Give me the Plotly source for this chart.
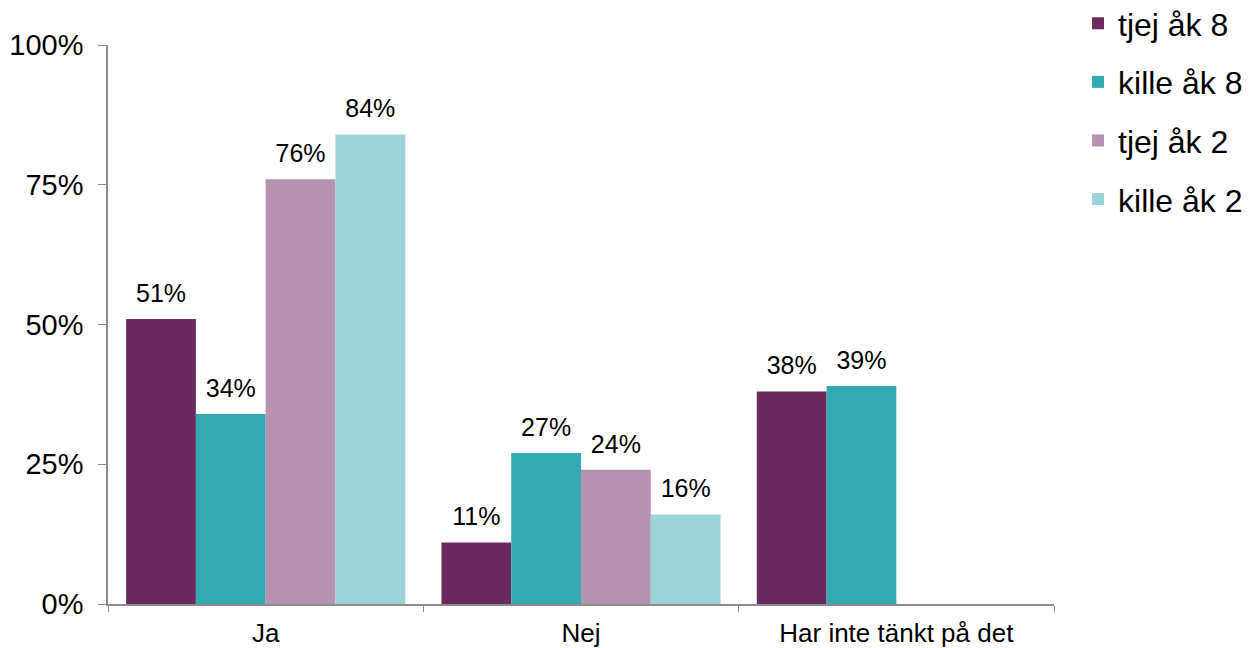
import plotly.graph_objects as go

categories = ["Ja", "Nej", "Har inte tänkt på det"]
series_names = ["tjej åk 8", "kille åk 8", "tjej åk 2", "kille åk 2"]
tjej_ak8 = [51, 11, 38]
kille_ak8 = [34, 27, 39]
tjej_ak2 = [76, 24, None]
kille_ak2 = [84, 16, None]
y_ticks = [0, 25, 50, 75, 100]

colors = ["#6A2A5D", "#33A9B2", "#B592AF", "#9BD3D8"]
series = [tjej_ak8, kille_ak8, tjej_ak2, kille_ak2]

font = "Liberation Sans, Arial, sans-serif"

fig = go.Figure()
for i, (name, vals) in enumerate(zip(series_names, series)):
    fig.add_trace(go.Bar(
        x=categories,
        y=vals,
        name=name,
        marker=dict(color=colors[i], line=dict(width=0)),
        legendgroup=name,
    ))

# value labels as grouped text points, so they can sit a bit higher than bar text
for i, (name, vals) in enumerate(zip(series_names, series)):
    fig.add_trace(go.Scatter(
        x=categories,
        y=vals,
        mode="markers+text",
        marker=dict(size=16, color="rgba(0,0,0,0)"),
        text=[f"{v}%" if v is not None else "" for v in vals],
        textposition="top center",
        textfont=dict(size=25, color="#000000", family=font),
        showlegend=False,
        hoverinfo="skip",
        cliponaxis=False,
    ))

# the page body adds an 8px margin, so the figure is 8px smaller on each side
fig.update_layout(
    width=1242,
    height=640,
    barmode="group",
    bargap=0.115,
    bargroupgap=0,
    scattermode="group",
    scattergap=0.115,
    plot_bgcolor="white",
    paper_bgcolor="white",
    margin=dict(l=100, r=196, t=37, b=44, autoexpand=False),
    font=dict(family=font, color="#000000"),
    showlegend=True,
    legend=dict(
        x=1.0254, xanchor="left",
        y=1.0877, yanchor="top",
        font=dict(size=32, family=font),
        traceorder="grouped",
        tracegroupgap=14,
        itemwidth=30,
    ),
    xaxis=dict(
        showline=True,
        linecolor="#8C8C8C",
        linewidth=1.5,
        ticks="outside",
        tickson="boundaries",
        ticklen=6,
        tickcolor="#8C8C8C",
        tickfont=dict(size=26, family=font),
        ticklabelstandoff=5,
        showgrid=False,
        automargin=False,
    ),
    yaxis=dict(
        range=[0, 100],
        tickvals=y_ticks,
        ticktext=[f"{v}%" for v in y_ticks],
        showline=True,
        linecolor="#8C8C8C",
        linewidth=1.5,
        ticks="outside",
        ticklen=8,
        tickcolor="#8C8C8C",
        tickfont=dict(size=29, family=font),
        ticklabelstandoff=9,
        showgrid=False,
        zeroline=False,
        automargin=False,
    ),
)

fig.write_html("out.html")
